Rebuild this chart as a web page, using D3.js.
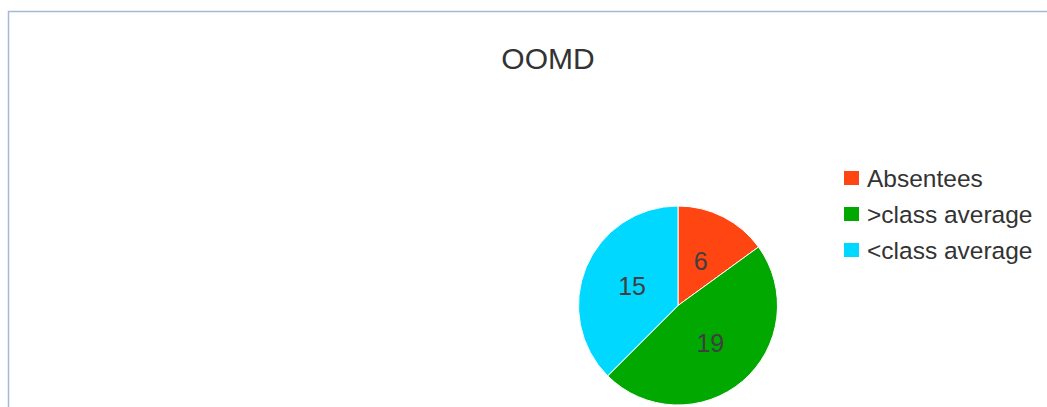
<!DOCTYPE html>
<html>
<head>
<meta charset="utf-8">
<script src="https://cdn.jsdelivr.net/npm/d3@7"></script>
<style>
  body { margin: 0; background: #fff; }
  svg { display: block; font-family: "Liberation Sans", Arial, sans-serif; }
</style>
</head>
<body>
<div id="chart"></div>
<script>
// chart data
const categories = ['Absentees', '>class average', '<class average']
const values = [6, 19, 15]
const colors = ['#ff4511', '#00a800', '#00d8ff']

const width = 1047
const height = 407

const svg = d3.select('#chart')
  .append('svg')
  .attr('width', width)
  .attr('height', height)

// frame lines (left and top)
svg.append('path')
  .attr('d', 'M8.5,' + height + 'V11.5H' + width)
  .attr('fill', 'none')
  .attr('stroke', '#a6b8d8')
  .attr('stroke-width', 1.5)

// title
svg.append('text')
  .attr('x', 548)
  .attr('y', 69)
  .attr('text-anchor', 'middle')
  .style('font-size', '30px')
  .style('fill', '#333')
  .text('OOMD')

// pie
const radius = 99.5
const g = svg.append('g')
  .attr('transform', 'translate(678,305.5)')

const pie = d3.pie().sort(null).value(function (d) { return d })
const arcs = pie(values)
const arc = d3.arc().innerRadius(0).outerRadius(radius)
const labelArc = d3.arc().innerRadius(radius * 0.5).outerRadius(radius * 0.5)

g.selectAll('path')
  .data(arcs)
  .enter()
  .append('path')
  .attr('d', arc)
  .attr('fill', function (d, i) { return colors[i] })
  .attr('stroke', '#fff')
  .attr('stroke-width', 1)

g.selectAll('text')
  .data(arcs)
  .enter()
  .append('text')
  .attr('transform', function (d) { return 'translate(' + labelArc.centroid(d) + ')' })
  .attr('text-anchor', 'middle')
  .attr('dy', '0.35em')
  .style('font-size', '25px')
  .style('fill', '#3f3f3f')
  .text(function (d) { return d.data })

// legend
const legend = svg.append('g')
  .attr('transform', 'translate(844,178)')

const rows = legend.selectAll('g')
  .data(categories)
  .enter()
  .append('g')
  .attr('transform', function (d, i) { return 'translate(0,' + i * 36 + ')' })

rows.append('rect')
  .attr('x', 0)
  .attr('y', -7)
  .attr('width', 15)
  .attr('height', 14)
  .attr('fill', function (d, i) { return colors[i] })

rows.append('text')
  .attr('x', 23)
  .attr('dy', '0.35em')
  .style('font-size', '24.5px')
  .style('fill', '#333')
  .text(function (d) { return d })
</script>
</body>
</html>
